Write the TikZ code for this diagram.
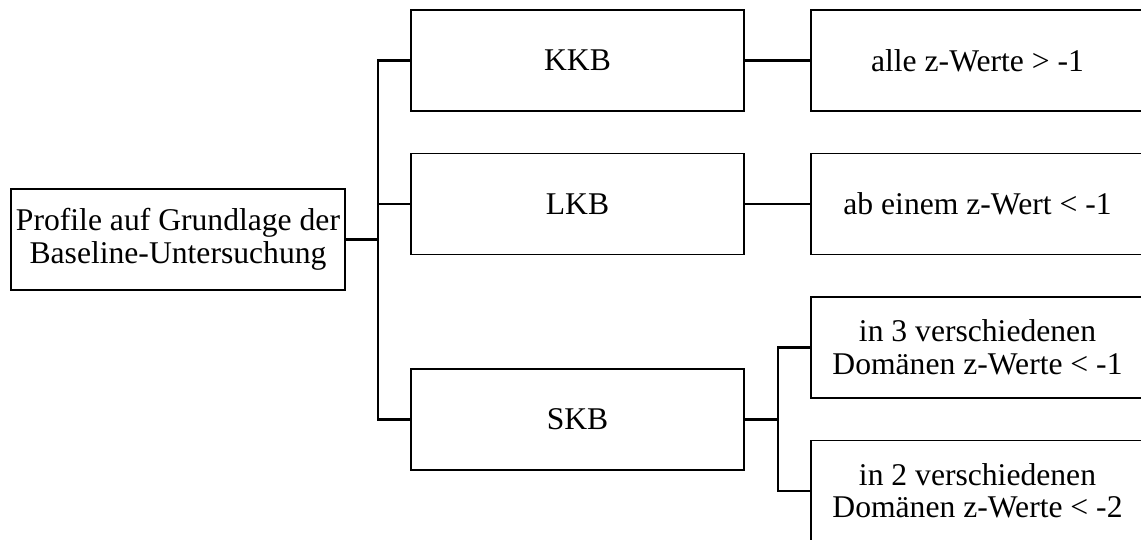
\documentclass[tikz,border=0pt]{standalone}
\usepackage{fontspec}
\setmainfont{Liberation Serif}
\usetikzlibrary{positioning,calc}
\tikzset{
  box/.style={draw=black,line width=1.1pt,align=center,inner sep=2pt,minimum width=6.66cm,minimum height=2.02cm,font=\fontsize{18}{18.5}\selectfont},
  rootbox/.style={box,minimum width=6.68cm},
  ln/.style={draw=black,line width=1.2pt},
}
\begin{document}
\begin{tikzpicture}[x=0.02cm,y=-0.02cm]
\useasboundingbox (0,0) rectangle (1141,540);
\clip (0,0) rectangle (1141,540);
% root
\node[rootbox] (root) at (178,239.5) {Profile auf Grundlage der\\Baseline-Untersuchung};
% profiles
\node[box] (kkb) at (577.5,60.5) {KKB};
\node[box] (lkb) at (577.5,204) {LKB};
\node[box] (skb) at (577.5,419.5) {SKB};
% criteria
\node[box] (kkbc) at (977.5,60.5) {alle z-Werte > -1};
\node[box] (lkbc) at (977.5,204) {ab einem z-Wert < -1};
\node[box] (skbc1) at (977.5,347.5) {in 3 verschiedenen\\Domänen z-Werte < -1};
\node[box] (skbc2) at (977.5,491) {in 2 verschiedenen\\Domänen z-Werte < -2};
% connectors
\coordinate (fork) at (378,239.5);
\coordinate (skbfork) at (778,419.5);
\draw[ln] (root.east) -- (fork);
\foreach \n in {kkb,lkb,skb}
  \draw[ln] (fork) |- (\n.west);
\draw[ln] (kkb.east) -- (kkbc.west);
\draw[ln] (lkb.east) -- (lkbc.west);
\draw[ln] (skb.east) -- (skbfork);
\draw[ln] (skbfork) |- (skbc1.west);
\draw[ln] (skbfork) |- (skbc2.west);
\end{tikzpicture}
\end{document}
